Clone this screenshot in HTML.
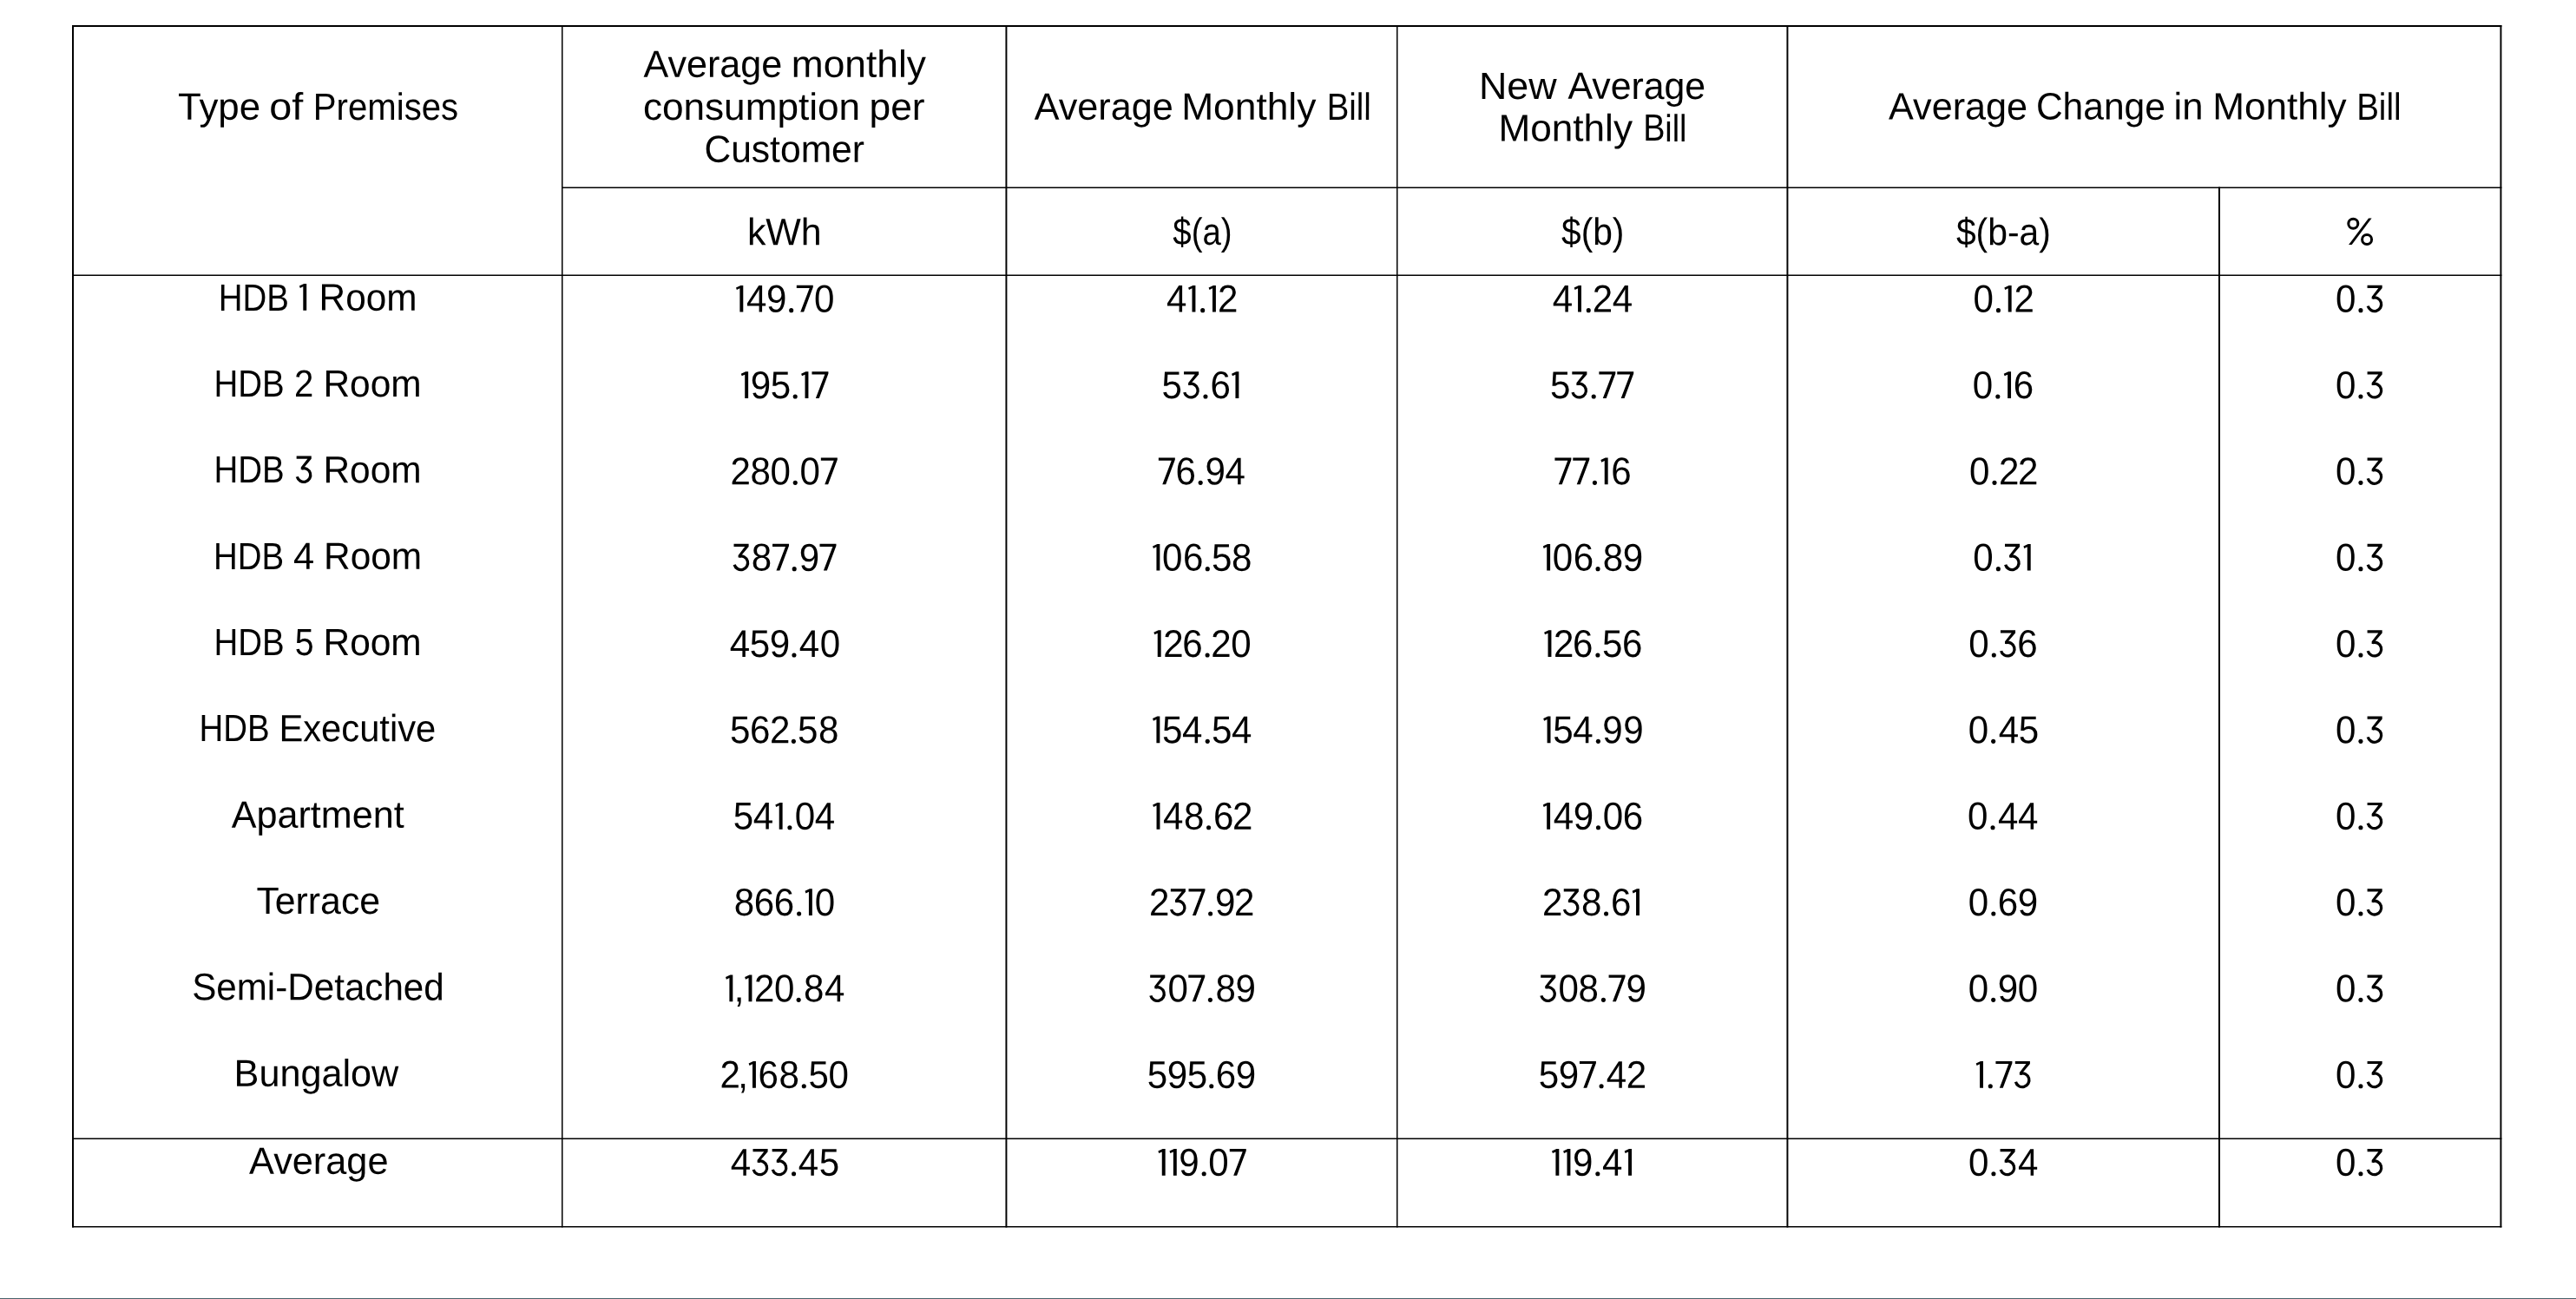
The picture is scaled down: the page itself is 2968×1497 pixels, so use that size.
<!DOCTYPE html>
<html lang="en"><head><meta charset="utf-8"><title>Average monthly electricity bill by type of premises</title>
<style>
html,body{margin:0;padding:0;background:#fff;}
html{overflow:hidden;}
body{width:2968px;height:1497px;position:relative;overflow:hidden;font-family:"Liberation Sans",sans-serif;}
svg{position:absolute;left:0;top:0;}
#txt{position:absolute;left:0;top:0;width:2968px;height:1497px;will-change:transform;}
.t{position:absolute;left:0;top:0;display:block;height:0;font-size:43.75px;line-height:0;white-space:nowrap;color:#000;transform-origin:0 0;}
.n{font-size:44.5px;}
.t b{font-weight:normal;display:inline-block;transform:scaleX(0.945);}
.d1,.d3,.d7,.dp,.x{color:transparent;}
.d0{margin:0 -0.65px}
.d1{margin:0 -5.83px}
.d2{margin:0 -1.39px}
.d3{margin:0 -1.30px}
.d4{margin:0 -0.40px}
.d5{margin:0 -1.04px}
.d6{margin:0 -0.78px}
.d7{margin:0 -1.94px}
.d8{margin:0 -0.43px}
.d9{margin:0 -0.80px}
.dp{margin:0 -0.98px}
.dc{margin:0 -1.67px}
.bar{position:absolute;left:0;top:1496px;width:2968px;height:1px;background:#49636c;}
</style></head><body>
<svg width="2968" height="1497" viewBox="0 0 2968 1497" fill="#000">
<rect x="83" y="29" width="2.00" height="1385.50"/>
<rect x="647" y="29" width="1.50" height="1385.50"/>
<rect x="1158.45" y="29" width="1.95" height="1385.50"/>
<rect x="1609" y="29" width="1.50" height="1385.50"/>
<rect x="2058.45" y="29" width="1.95" height="1385.50"/>
<rect x="2556" y="215.5" width="2.00" height="1199.00"/>
<rect x="2880.45" y="29" width="1.95" height="1385.50"/>
<rect x="83" y="29" width="2799.40" height="2.00"/>
<rect x="647" y="215.5" width="2235.40" height="1.50"/>
<rect x="83" y="316.5" width="2799.40" height="1.50"/>
<rect x="83" y="1311.5" width="2799.40" height="1.50"/>
<rect x="83" y="1413" width="2799.40" height="1.50"/>
<g fill="none" stroke="#000" stroke-width="3"><circle cx="2711.3" cy="257.7" r="5.5"/><circle cx="2727.1" cy="276.0" r="5.5"/></g><polygon points="2729.1,251.4 2732.6,251.4 2709.7,281.9 2706.1,281.9"/>
<defs><path id="o" d="M8.3,0V-30.7H5.3L0,-28.2L0.9,-25.6L4.4,-27.3V0Z"/></defs><use href="#o" x="344.90" y="357.65"/><use href="#o" x="847.99" y="359.60"/><use href="#o" x="853.82" y="458.94"/><use href="#o" x="923.12" y="458.94"/><use href="#o" x="893.31" y="955.64"/><use href="#o" x="927.53" y="1054.98"/><use href="#o" x="836.00" y="1154.32"/><use href="#o" x="858.13" y="1154.32"/><use href="#o" x="862.61" y="1253.66"/><use href="#o" x="1369.10" y="359.60"/><use href="#o" x="1392.60" y="359.60"/><use href="#o" x="1419.06" y="458.94"/><use href="#o" x="1328.05" y="657.62"/><use href="#o" x="1329.36" y="756.96"/><use href="#o" x="1328.04" y="856.30"/><use href="#o" x="1328.15" y="955.64"/><use href="#o" x="1334.37" y="1354.70"/><use href="#o" x="1347.46" y="1354.70"/><use href="#o" x="1813.67" y="359.60"/><use href="#o" x="1844.35" y="558.28"/><use href="#o" x="1777.81" y="657.62"/><use href="#o" x="1779.14" y="756.96"/><use href="#o" x="1778.21" y="856.30"/><use href="#o" x="1777.79" y="955.64"/><use href="#o" x="1880.66" y="1054.98"/><use href="#o" x="1788.02" y="1354.70"/><use href="#o" x="1801.11" y="1354.70"/><use href="#o" x="1871.70" y="1354.70"/><use href="#o" x="2309.35" y="359.60"/><use href="#o" x="2308.74" y="458.94"/><use href="#o" x="2331.40" y="657.62"/><use href="#o" x="2276.69" y="1253.66"/>
<circle cx="911.68" cy="357.65" r="2.55"/><circle cx="916.21" cy="456.99" r="2.55"/><circle cx="916.25" cy="556.33" r="2.55"/><circle cx="915.20" cy="655.67" r="2.55"/><circle cx="914.93" cy="755.01" r="2.55"/><circle cx="914.38" cy="854.35" r="2.55"/><circle cx="909.90" cy="953.69" r="2.55"/><circle cx="920.62" cy="1053.03" r="2.55"/><circle cx="920.15" cy="1152.37" r="2.55"/><circle cx="926.29" cy="1251.71" r="2.55"/><circle cx="914.56" cy="1352.75" r="2.55"/><circle cx="1385.69" cy="357.65" r="2.55"/><circle cx="1388.96" cy="456.99" r="2.55"/><circle cx="1383.19" cy="556.33" r="2.55"/><circle cx="1391.29" cy="655.67" r="2.55"/><circle cx="1391.12" cy="755.01" r="2.55"/><circle cx="1391.25" cy="854.35" r="2.55"/><circle cx="1392.59" cy="953.69" r="2.55"/><circle cx="1394.64" cy="1053.03" r="2.55"/><circle cx="1394.42" cy="1152.37" r="2.55"/><circle cx="1395.77" cy="1251.71" r="2.55"/><circle cx="1387.19" cy="1352.75" r="2.55"/><circle cx="1830.26" cy="357.65" r="2.55"/><circle cx="1836.22" cy="456.99" r="2.55"/><circle cx="1837.44" cy="556.33" r="2.55"/><circle cx="1841.05" cy="655.67" r="2.55"/><circle cx="1840.90" cy="755.01" r="2.55"/><circle cx="1841.41" cy="854.35" r="2.55"/><circle cx="1841.47" cy="953.69" r="2.55"/><circle cx="1850.57" cy="1053.03" r="2.55"/><circle cx="1847.44" cy="1152.37" r="2.55"/><circle cx="1845.08" cy="1251.71" r="2.55"/><circle cx="1840.84" cy="1352.75" r="2.55"/><circle cx="2302.44" cy="357.65" r="2.55"/><circle cx="2301.83" cy="456.99" r="2.55"/><circle cx="2298.00" cy="556.33" r="2.55"/><circle cx="2302.36" cy="655.67" r="2.55"/><circle cx="2297.31" cy="755.01" r="2.55"/><circle cx="2296.67" cy="854.35" r="2.55"/><circle cx="2296.02" cy="953.69" r="2.55"/><circle cx="2296.81" cy="1053.03" r="2.55"/><circle cx="2296.68" cy="1152.37" r="2.55"/><circle cx="2293.28" cy="1251.71" r="2.55"/><circle cx="2296.93" cy="1352.75" r="2.55"/><circle cx="2719.95" cy="357.65" r="2.55"/><circle cx="2719.95" cy="456.99" r="2.55"/><circle cx="2719.95" cy="556.33" r="2.55"/><circle cx="2719.95" cy="655.67" r="2.55"/><circle cx="2719.95" cy="755.01" r="2.55"/><circle cx="2719.95" cy="854.35" r="2.55"/><circle cx="2719.95" cy="953.69" r="2.55"/><circle cx="2719.95" cy="1053.03" r="2.55"/><circle cx="2719.95" cy="1152.37" r="2.55"/><circle cx="2719.95" cy="1251.71" r="2.55"/><circle cx="2719.95" cy="1352.75" r="2.55"/>
<defs><path id="s" d="M0,-30.76H18.97V-28.5L8.3,0H4.4L14.9,-27.54H0Z"/><g id="h"><path d="M0.85,-30.76H17.95V-27.54L10,-18.2L9,-15H5.93V-17.72L13.55,-27.54H0.85Z"/><path d="M6.9,-16.4A7.85,7.85 0 1 1 1.5,-6.9" fill="none" stroke="#000" stroke-width="3.3"/></g></defs><use href="#s" x="917.82" y="359.60"/><use href="#s" x="935.45" y="458.94"/><use href="#s" x="945.84" y="558.28"/><use href="#s" x="890.06" y="657.62"/><use href="#s" x="944.49" y="657.62"/><use href="#s" x="1334.86" y="558.28"/><use href="#s" x="1369.50" y="1054.98"/><use href="#s" x="1369.27" y="1154.32"/><use href="#s" x="1416.79" y="1354.70"/><use href="#s" x="1842.37" y="458.94"/><use href="#s" x="1863.25" y="458.94"/><use href="#s" x="1791.42" y="558.28"/><use href="#s" x="1812.30" y="558.28"/><use href="#s" x="1853.58" y="1154.32"/><use href="#s" x="1819.94" y="1253.66"/><use href="#s" x="2299.43" y="1253.66"/><use href="#h" x="340.80" y="556.33"/><use href="#h" x="844.66" y="657.62"/><use href="#h" x="866.66" y="1354.70"/><use href="#h" x="888.80" y="1354.70"/><use href="#h" x="1363.20" y="458.94"/><use href="#h" x="1348.00" y="1054.98"/><use href="#h" x="1324.33" y="1154.32"/><use href="#h" x="1810.46" y="458.94"/><use href="#h" x="1800.91" y="1054.98"/><use href="#h" x="1774.33" y="1154.32"/><use href="#h" x="2309.15" y="657.62"/><use href="#h" x="2304.10" y="756.96"/><use href="#h" x="2320.95" y="1253.66"/><use href="#h" x="2303.72" y="1354.70"/><use href="#h" x="2726.74" y="359.60"/><use href="#h" x="2726.74" y="458.94"/><use href="#h" x="2726.74" y="558.28"/><use href="#h" x="2726.74" y="657.62"/><use href="#h" x="2726.74" y="756.96"/><use href="#h" x="2726.74" y="856.30"/><use href="#h" x="2726.74" y="955.64"/><use href="#h" x="2726.74" y="1054.98"/><use href="#h" x="2726.74" y="1154.32"/><use href="#h" x="2726.74" y="1253.66"/><use href="#h" x="2726.74" y="1354.70"/>
</svg>
<div id="txt">
<span class="t" style="transform:translate(205.12px,122.68px) rotate(0.03deg) scaleX(1.0011)">Type</span>
<span class="t" style="transform:translate(310.14px,122.69px) rotate(0.03deg) scaleX(1.0685)">of</span>
<span class="t" style="transform:translate(360.87px,122.66px) rotate(0.03deg) scaleX(0.9170)">Premises</span>
<span class="t" style="transform:translate(741.50px,73.76px) rotate(0.03deg) scaleX(0.9850)">Average</span>
<span class="t" style="transform:translate(911.83px,73.76px) rotate(0.03deg) scaleX(1.0122)">monthly</span>
<span class="t" style="transform:translate(740.92px,122.94px) rotate(0.03deg) scaleX(1.0084)">consumption</span>
<span class="t" style="transform:translate(1001.63px,122.98px) rotate(0.03deg) scaleX(1.0118)">per</span>
<span class="t" style="transform:translate(811.40px,171.75px) rotate(0.03deg) scaleX(0.9734)">Customer</span>
<span class="t" style="transform:translate(1191.80px,122.76px) rotate(0.03deg) scaleX(0.9863)">Average</span>
<span class="t" style="transform:translate(1361.14px,122.76px) rotate(0.03deg) scaleX(1.0135)">Monthly</span>
<span class="t" style="transform:translate(1528.71px,122.79px) rotate(0.03deg) scaleX(0.8762)">Bill</span>
<span class="t" style="transform:translate(1704.00px,98.88px) rotate(0.03deg) scaleX(1.0242)">New</span>
<span class="t" style="transform:translate(1806.50px,98.86px) rotate(0.03deg) scaleX(0.9782)">Average</span>
<span class="t" style="transform:translate(1726.45px,147.46px) rotate(0.03deg) scaleX(1.0088)">Monthly</span>
<span class="t" style="transform:translate(1893.15px,147.49px) rotate(0.03deg) scaleX(0.8628)">Bill</span>
<span class="t" style="transform:translate(2176.10px,122.56px) rotate(0.03deg) scaleX(0.9869)">Average</span>
<span class="t" style="transform:translate(2345.91px,122.56px) rotate(0.03deg) scaleX(0.9723)">Change</span>
<span class="t" style="transform:translate(2504.57px,122.59px) rotate(0.03deg) scaleX(0.9975)">in</span>
<span class="t" style="transform:translate(2549.15px,122.56px) rotate(0.03deg) scaleX(1.0088)">Monthly</span>
<span class="t" style="transform:translate(2715.19px,122.59px) rotate(0.03deg) scaleX(0.8801)">Bill</span>
<span class="t" style="transform:translate(860.92px,267.18px) rotate(0.03deg) scaleX(0.9805)">kWh</span>
<span class="t" style="transform:translate(1351.30px,267.18px) rotate(0.03deg) scaleX(0.8776)">$(a)</span>
<span class="t" style="transform:translate(1799.00px,267.18px) rotate(0.03deg) scaleX(0.9305)">$(b)</span>
<span class="t" style="transform:translate(2253.90px,267.17px) rotate(0.03deg) scaleX(0.9333)">$(b-a)</span>
<span class="t" style="transform:translate(251.80px,342.63px) rotate(0.03deg) scaleX(0.8781)">HDB</span>
<span class="t" style="transform:translate(367.60px,342.62px) rotate(0.03deg) scaleX(0.9665)">Room</span>
<span class="t" style="transform:translate(246.60px,441.97px) rotate(0.03deg) scaleX(0.8781)">HDB</span>
<span class="t" style="transform:translate(338.92px,441.99px) rotate(0.03deg) scaleX(0.9162)">2</span>
<span class="t" style="transform:translate(372.49px,441.96px) rotate(0.03deg) scaleX(0.9683)">Room</span>
<span class="t" style="transform:translate(246.60px,541.31px) rotate(0.03deg) scaleX(0.8781)">HDB</span>
<span class="t" style="transform:translate(372.49px,541.30px) rotate(0.03deg) scaleX(0.9683)">Room</span>
<span class="t" style="transform:translate(246.00px,640.65px) rotate(0.03deg) scaleX(0.8781)">HDB</span>
<span class="t" style="transform:translate(338.02px,640.66px) rotate(0.03deg) scaleX(0.9924)">4</span>
<span class="t" style="transform:translate(373.09px,640.64px) rotate(0.03deg) scaleX(0.9692)">Room</span>
<span class="t" style="transform:translate(246.60px,739.99px) rotate(0.03deg) scaleX(0.8781)">HDB</span>
<span class="t" style="transform:translate(339.87px,740.01px) rotate(0.03deg) scaleX(0.8961)">5</span>
<span class="t" style="transform:translate(372.59px,739.98px) rotate(0.03deg) scaleX(0.9683)">Room</span>
<span class="t" style="transform:translate(229.50px,839.33px) rotate(0.03deg) scaleX(0.8781)">HDB</span>
<span class="t" style="transform:translate(321.44px,839.30px) rotate(0.03deg) scaleX(0.9534)">Executive</span>
<span class="t" style="transform:translate(266.70px,938.64px) rotate(0.03deg) scaleX(0.9857)">Apartment</span>
<span class="t" style="transform:translate(295.43px,1037.99px) rotate(0.03deg) scaleX(0.9782)">Terrace</span>
<span class="t" style="transform:translate(221.18px,1137.29px) rotate(0.03deg) scaleX(0.9637)">Semi-Detached</span>
<span class="t" style="transform:translate(269.63px,1236.66px) rotate(0.03deg) scaleX(0.9869)">Bungalow</span>
<span class="t" style="transform:translate(287.10px,1337.66px) rotate(0.03deg) scaleX(0.9888)">Average</span>
<span class="t x" style="transform:translate(2702.00px,267.19px) rotate(0.03deg)">%</span>
<span class="t x" style="transform:translate(340.90px,342.64px) rotate(0.03deg)">1</span>
<span class="t x" style="transform:translate(338.80px,541.32px) rotate(0.03deg)">3</span>
<span class="t n" style="transform:translate(846.29px,344.57px) rotate(0.03deg)"><b class="d1">1</b><b class="d4">4</b><b class="d9">9</b><b class="dp">.</b><b class="d7">7</b><b class="d0">0</b></span>
<span class="t n" style="transform:translate(852.12px,443.91px) rotate(0.03deg)"><b class="d1">1</b><b class="d9">9</b><b class="d5">5</b><b class="dp">.</b><b class="d1">1</b><b class="d7">7</b></span>
<span class="t n" style="transform:translate(841.72px,543.25px) rotate(0.03deg)"><b class="d2">2</b><b class="d8">8</b><b class="d0">0</b><b class="dp">.</b><b class="d0">0</b><b class="d7">7</b></span>
<span class="t n" style="transform:translate(843.08px,642.59px) rotate(0.03deg)"><b class="d3">3</b><b class="d8">8</b><b class="d7">7</b><b class="dp">.</b><b class="d9">9</b><b class="d7">7</b></span>
<span class="t n" style="transform:translate(839.97px,741.93px) rotate(0.03deg)"><b class="d4">4</b><b class="d5">5</b><b class="d9">9</b><b class="dp">.</b><b class="d4">4</b><b class="d0">0</b></span>
<span class="t n" style="transform:translate(841.36px,841.27px) rotate(0.03deg)"><b class="d5">5</b><b class="d6">6</b><b class="d2">2</b><b class="dp">.</b><b class="d5">5</b><b class="d8">8</b></span>
<span class="t n" style="transform:translate(845.00px,940.61px) rotate(0.03deg)"><b class="d5">5</b><b class="d4">4</b><b class="d1">1</b><b class="dp">.</b><b class="d0">0</b><b class="d4">4</b></span>
<span class="t n" style="transform:translate(845.13px,1039.95px) rotate(0.03deg)"><b class="d8">8</b><b class="d6">6</b><b class="d6">6</b><b class="dp">.</b><b class="d1">1</b><b class="d0">0</b></span>
<span class="t n" style="transform:translate(834.30px,1139.28px) rotate(0.03deg)"><b class="d1">1</b><b class="dc">,</b><b class="d1">1</b><b class="d2">2</b><b class="d0">0</b><b class="dp">.</b><b class="d8">8</b><b class="d4">4</b></span>
<span class="t n" style="transform:translate(829.89px,1238.62px) rotate(0.03deg)"><b class="d2">2</b><b class="dc">,</b><b class="d1">1</b><b class="d6">6</b><b class="d8">8</b><b class="dp">.</b><b class="d5">5</b><b class="d0">0</b></span>
<span class="t n" style="transform:translate(841.12px,1339.67px) rotate(0.03deg)"><b class="d4">4</b><b class="d3">3</b><b class="d3">3</b><b class="dp">.</b><b class="d4">4</b><b class="d5">5</b></span>
<span class="t n" style="transform:translate(1343.45px,344.58px) rotate(0.03deg)"><b class="d4">4</b><b class="d1">1</b><b class="dp">.</b><b class="d1">1</b><b class="d2">2</b></span>
<span class="t n" style="transform:translate(1338.95px,443.92px) rotate(0.03deg)"><b class="d5">5</b><b class="d3">3</b><b class="dp">.</b><b class="d6">6</b><b class="d1">1</b></span>
<span class="t n" style="transform:translate(1333.91px,543.25px) rotate(0.03deg)"><b class="d7">7</b><b class="d6">6</b><b class="dp">.</b><b class="d9">9</b><b class="d4">4</b></span>
<span class="t n" style="transform:translate(1326.35px,642.59px) rotate(0.03deg)"><b class="d1">1</b><b class="d0">0</b><b class="d6">6</b><b class="dp">.</b><b class="d5">5</b><b class="d8">8</b></span>
<span class="t n" style="transform:translate(1327.66px,741.93px) rotate(0.03deg)"><b class="d1">1</b><b class="d2">2</b><b class="d6">6</b><b class="dp">.</b><b class="d2">2</b><b class="d0">0</b></span>
<span class="t n" style="transform:translate(1326.34px,841.27px) rotate(0.03deg)"><b class="d1">1</b><b class="d5">5</b><b class="d4">4</b><b class="dp">.</b><b class="d5">5</b><b class="d4">4</b></span>
<span class="t n" style="transform:translate(1326.45px,940.61px) rotate(0.03deg)"><b class="d1">1</b><b class="d4">4</b><b class="d8">8</b><b class="dp">.</b><b class="d6">6</b><b class="d2">2</b></span>
<span class="t n" style="transform:translate(1324.45px,1039.95px) rotate(0.03deg)"><b class="d2">2</b><b class="d3">3</b><b class="d7">7</b><b class="dp">.</b><b class="d9">9</b><b class="d2">2</b></span>
<span class="t n" style="transform:translate(1322.74px,1139.29px) rotate(0.03deg)"><b class="d3">3</b><b class="d0">0</b><b class="d7">7</b><b class="dp">.</b><b class="d8">8</b><b class="d9">9</b></span>
<span class="t n" style="transform:translate(1322.10px,1238.63px) rotate(0.03deg)"><b class="d5">5</b><b class="d9">9</b><b class="d5">5</b><b class="dp">.</b><b class="d6">6</b><b class="d9">9</b></span>
<span class="t n" style="transform:translate(1332.67px,1339.67px) rotate(0.03deg)"><b class="d1">1</b><b class="d1">1</b><b class="d9">9</b><b class="dp">.</b><b class="d0">0</b><b class="d7">7</b></span>
<span class="t n" style="transform:translate(1788.02px,344.58px) rotate(0.03deg)"><b class="d4">4</b><b class="d1">1</b><b class="dp">.</b><b class="d2">2</b><b class="d4">4</b></span>
<span class="t n" style="transform:translate(1786.22px,443.91px) rotate(0.03deg)"><b class="d5">5</b><b class="d3">3</b><b class="dp">.</b><b class="d7">7</b><b class="d7">7</b></span>
<span class="t n" style="transform:translate(1790.48px,543.26px) rotate(0.03deg)"><b class="d7">7</b><b class="d7">7</b><b class="dp">.</b><b class="d1">1</b><b class="d6">6</b></span>
<span class="t n" style="transform:translate(1776.11px,642.59px) rotate(0.03deg)"><b class="d1">1</b><b class="d0">0</b><b class="d6">6</b><b class="dp">.</b><b class="d8">8</b><b class="d9">9</b></span>
<span class="t n" style="transform:translate(1777.44px,741.93px) rotate(0.03deg)"><b class="d1">1</b><b class="d2">2</b><b class="d6">6</b><b class="dp">.</b><b class="d5">5</b><b class="d6">6</b></span>
<span class="t n" style="transform:translate(1776.51px,841.27px) rotate(0.03deg)"><b class="d1">1</b><b class="d5">5</b><b class="d4">4</b><b class="dp">.</b><b class="d9">9</b><b class="d9">9</b></span>
<span class="t n" style="transform:translate(1776.09px,940.61px) rotate(0.03deg)"><b class="d1">1</b><b class="d4">4</b><b class="d9">9</b><b class="dp">.</b><b class="d0">0</b><b class="d6">6</b></span>
<span class="t n" style="transform:translate(1777.35px,1039.95px) rotate(0.03deg)"><b class="d2">2</b><b class="d3">3</b><b class="d8">8</b><b class="dp">.</b><b class="d6">6</b><b class="d1">1</b></span>
<span class="t n" style="transform:translate(1772.74px,1139.29px) rotate(0.03deg)"><b class="d3">3</b><b class="d0">0</b><b class="d8">8</b><b class="dp">.</b><b class="d7">7</b><b class="d9">9</b></span>
<span class="t n" style="transform:translate(1773.20px,1238.63px) rotate(0.03deg)"><b class="d5">5</b><b class="d9">9</b><b class="d7">7</b><b class="dp">.</b><b class="d4">4</b><b class="d2">2</b></span>
<span class="t n" style="transform:translate(1786.32px,1339.67px) rotate(0.03deg)"><b class="d1">1</b><b class="d1">1</b><b class="d9">9</b><b class="dp">.</b><b class="d4">4</b><b class="d1">1</b></span>
<span class="t n" style="transform:translate(2273.79px,344.58px) rotate(0.03deg)"><b class="d0">0</b><b class="dp">.</b><b class="d1">1</b><b class="d2">2</b></span>
<span class="t n" style="transform:translate(2273.18px,443.92px) rotate(0.03deg)"><b class="d0">0</b><b class="dp">.</b><b class="d1">1</b><b class="d6">6</b></span>
<span class="t n" style="transform:translate(2269.35px,543.26px) rotate(0.03deg)"><b class="d0">0</b><b class="dp">.</b><b class="d2">2</b><b class="d2">2</b></span>
<span class="t n" style="transform:translate(2273.70px,642.60px) rotate(0.03deg)"><b class="d0">0</b><b class="dp">.</b><b class="d3">3</b><b class="d1">1</b></span>
<span class="t n" style="transform:translate(2268.66px,741.94px) rotate(0.03deg)"><b class="d0">0</b><b class="dp">.</b><b class="d3">3</b><b class="d6">6</b></span>
<span class="t n" style="transform:translate(2268.01px,841.28px) rotate(0.03deg)"><b class="d0">0</b><b class="dp">.</b><b class="d4">4</b><b class="d5">5</b></span>
<span class="t n" style="transform:translate(2267.37px,940.62px) rotate(0.03deg)"><b class="d0">0</b><b class="dp">.</b><b class="d4">4</b><b class="d4">4</b></span>
<span class="t n" style="transform:translate(2268.16px,1039.96px) rotate(0.03deg)"><b class="d0">0</b><b class="dp">.</b><b class="d6">6</b><b class="d9">9</b></span>
<span class="t n" style="transform:translate(2268.03px,1139.30px) rotate(0.03deg)"><b class="d0">0</b><b class="dp">.</b><b class="d9">9</b><b class="d0">0</b></span>
<span class="t n" style="transform:translate(2274.99px,1238.64px) rotate(0.03deg)"><b class="d1">1</b><b class="dp">.</b><b class="d7">7</b><b class="d3">3</b></span>
<span class="t n" style="transform:translate(2268.28px,1339.68px) rotate(0.03deg)"><b class="d0">0</b><b class="dp">.</b><b class="d3">3</b><b class="d4">4</b></span>
<span class="t n" style="transform:translate(2691.30px,344.59px) rotate(0.03deg)"><b class="d0">0</b><b class="dp">.</b><b class="d3">3</b></span>
<span class="t n" style="transform:translate(2691.30px,443.93px) rotate(0.03deg)"><b class="d0">0</b><b class="dp">.</b><b class="d3">3</b></span>
<span class="t n" style="transform:translate(2691.30px,543.27px) rotate(0.03deg)"><b class="d0">0</b><b class="dp">.</b><b class="d3">3</b></span>
<span class="t n" style="transform:translate(2691.30px,642.61px) rotate(0.03deg)"><b class="d0">0</b><b class="dp">.</b><b class="d3">3</b></span>
<span class="t n" style="transform:translate(2691.30px,741.95px) rotate(0.03deg)"><b class="d0">0</b><b class="dp">.</b><b class="d3">3</b></span>
<span class="t n" style="transform:translate(2691.30px,841.29px) rotate(0.03deg)"><b class="d0">0</b><b class="dp">.</b><b class="d3">3</b></span>
<span class="t n" style="transform:translate(2691.30px,940.63px) rotate(0.03deg)"><b class="d0">0</b><b class="dp">.</b><b class="d3">3</b></span>
<span class="t n" style="transform:translate(2691.30px,1039.97px) rotate(0.03deg)"><b class="d0">0</b><b class="dp">.</b><b class="d3">3</b></span>
<span class="t n" style="transform:translate(2691.30px,1139.31px) rotate(0.03deg)"><b class="d0">0</b><b class="dp">.</b><b class="d3">3</b></span>
<span class="t n" style="transform:translate(2691.30px,1238.65px) rotate(0.03deg)"><b class="d0">0</b><b class="dp">.</b><b class="d3">3</b></span>
<span class="t n" style="transform:translate(2691.30px,1339.69px) rotate(0.03deg)"><b class="d0">0</b><b class="dp">.</b><b class="d3">3</b></span>
</div>
<div class="bar"></div>
</body></html>
